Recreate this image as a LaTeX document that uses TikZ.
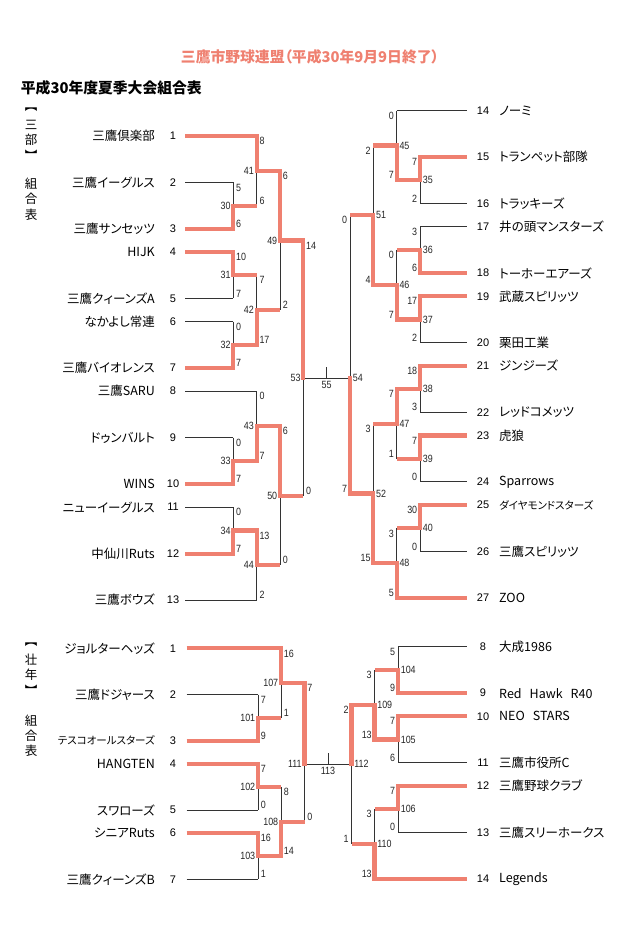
\documentclass[tikz,border=0pt]{standalone}
\usepackage{fontspec}
\setmainfont{Liberation Sans}
\newfontfamily\jp[RawFeature=+palt]{Noto Sans CJK JP}
\newfontfamily\jpv{Noto Sans CJK JP}
\newfontfamily\scorefont[FakeStretch=0.85]{Liberation Sans}
\definecolor{bracketred}{RGB}{239,128,112}
\def\games{30/A2/A3/A3/5/6/west/east, 41/A1/g30/A1/8/6/west/east,
 31/A4/A5/A4/10/7/west/east, 32/A6/A7/A7/0/7/west/east,
 42/g31/g32/g32/7/17/west/east, 49/g41/g42/g41/6/2/west/east,
 33/A9/A10/A10/0/7/west/east, 43/A8/g33/g33/0/7/west/east,
 34/A11/A12/A12/0/7/west/east, 44/g34/A13/g34/13/2/west/east,
 50/g43/g44/g43/6/0/west/east, 53/g49/g50/g49/14/0/west/east,
 35/A15/A16/A15/7/2/east/west, 45/A14/g35/g35/0/7/east/west,
 36/A17/A18/A18/3/6/east/west, 37/A19/A20/A19/17/2/east/west,
 46/g36/g37/g37/0/7/east/west, 51/g45/g46/g46/2/4/east/west,
 38/A21/A22/A21/18/3/east/west, 39/A23/A24/A23/7/0/east/west,
 47/g38/g39/g38/7/1/east/west, 40/A25/A26/A25/30/0/east/west,
 48/g40/A27/A27/3/5/east/west, 52/g47/g48/g48/3/15/east/west,
 54/g51/g52/g52/0/7/east/west,
 101/B2/B3/B3/7/9/west/east, 107/B1/g101/B1/16/1/west/east,
 102/B4/B5/B4/7/0/west/east, 103/B6/B7/B6/16/1/west/east,
 108/g102/g103/g103/8/14/west/east, 111/g107/g108/g107/7/0/west/east,
 104/B8/B9/B9/5/9/east/west, 105/B10/B11/B10/7/6/east/west,
 109/g104/g105/g105/3/13/east/west, 106/B12/B13/B12/7/0/east/west,
 110/g106/B14/B14/3/13/east/west, 112/g109/g110/g109/2/1/east/west}
\begin{document}
\begin{tikzpicture}[x=1pt,y=-1pt,
 blk/.style={line width=1pt,black!80},
 win/.style={line width=4.2pt,bracketred},
 winv/.style={win,line cap=rect},
 seed/.style={font=\fontsize{11}{12}\selectfont,inner sep=0pt},
 team/.style={font=\jp\fontsize{12.5}{14}\selectfont,inner sep=0pt},
 score/.style={font=\scorefont\fontsize{10.5}{11}\selectfont,inner xsep=2.6pt,inner ysep=1.2pt,text=black!85},
 vt/.style={font=\jpv\fontsize{12.5}{14}\selectfont,inner sep=0pt}]
 \fill[white] (0,0) rectangle (634,934);
 \node[font=\jp\bfseries\fontsize{14.8}{16}\selectfont,text=bracketred] (title) at (310,56.7) {三鷹市野球連盟（平成30年9月9日終了）};
 \node[font=\jp\bfseries\fontsize{14.8}{16}\selectfont,anchor=west,inner sep=0pt] (sub) at (20.7,87.7) {平成30年度夏季大会組合表};
 % <<< 縦書き
 \foreach \c [count=\i] in {︻,三,部,︼} \node[vt] (va\i) at (31,95+15*\i) {\c};
 \foreach \c [count=\i] in {組,合,表} \node[vt] (vb\i) at (31,168+15.5*\i) {\c};
 \foreach \c [count=\i] in {︻,壮,年,︼} \node[vt] (vc\i) at (31,630+15*\i) {\c};
 \foreach \c [count=\i] in {組,合,表} \node[vt] (vd\i) at (31,706+15*\i) {\c};
 % <<< 三部 左
 \foreach \n/\sl/\nm in {1/0/三鷹倶楽部, 2/2/三鷹イーグルス, 3/4/三鷹サンセッツ,
   4/5/HIJK, 5/7/三鷹クィーンズA, 6/8/なかよし常連, 7/10/三鷹バイオレンス,
   8/11/三鷹SARU, 9/13/ドゥンバルト, 10/15/WINS, 11/16/ニューイーグルス,
   12/18/中仙川Ruts, 13/20/三鷹ボウズ}{
  \coordinate (A\n) at (185,136+23.2*\sl);
  \node[seed] (nA\n) at (173,136+23.2*\sl) {\n};
  \node[team,anchor=east] (tA\n) at (155,136+23.2*\sl) {\nm};
 }
 % <<< 三部 右
 \foreach \n/\sl/\nm in {14/0/ノーミ, 15/2/トランペット部隊, 16/4/トラッキーズ,
   17/5/井の頭マンスターズ, 18/7/トーホーエアーズ, 19/8/武蔵スピリッツ,
   20/10/栗田工業, 21/11/ジンジーズ, 22/13/レッドコメッツ, 23/14/虎狼,
   24/16/Sparrows, 25/17/{\fontsize{10.5}{12}\selectfont ダイヤモンドスターズ},
   26/19/三鷹スピリッツ, 27/21/ZOO}{
  \coordinate (A\n) at (466.7,110.7+23.2*\sl);
  \node[seed] (nA\n) at (483,110.7+23.2*\sl) {\n};
  \node[team,anchor=west] (tA\n) at (499,110.7+23.2*\sl) {\nm};
 }
 % <<< 壮年 左
 \foreach \n/\sl/\nm in {1/0/ジョルターヘッズ\hspace{12pt}, 2/2/三鷹ドジャース,
   3/4/{\fontsize{10.5}{12}\selectfont テスコオールスターズ}, 4/5/HANGTEN,
   5/7/スワローズ, 6/8/シニアRuts, 7/10/三鷹クィーンズB}{
  \coordinate (B\n) at (186.5,648.3+23.1*\sl);
  \node[seed] (nB\n) at (173,648.3+23.1*\sl) {\n};
  \node[team,anchor=east] (tB\n) at (155,648.3+23.1*\sl) {\nm};
 }
 % <<< 壮年 右
 \foreach \n/\sl/\nm in {8/0/大成1986, 9/2/Red\hspace{8pt}Hawk\hspace{8pt}R40,
   10/3/NEO\hspace{8pt}STARS, 11/5/三鷹市役所C, 12/6/三鷹野球クラブ,
   13/8/三鷹スリーホークス, 14/10/Legends}{
  \coordinate (B\n) at (466.7,646.7+23.2*\sl);
  \node[seed] (nB\n) at (483,646.7+23.2*\sl) {\n};
  \node[team,anchor=west] (tB\n) at (499,646.7+23.2*\sl) {\nm};
 }
 % <<< 試合
 \foreach \g/\x/\y in {30/233.3/205.6, 41/256.7/170.8, 31/233.3/275.2,
   32/233.3/344.8, 42/256.7/310, 49/280/240.4, 33/233.3/460.8, 43/256.7/426,
   34/233.3/530.4, 44/256.7/565.2, 50/280/495.6, 53/303.3/378, 55/326.7/378,
   54/350/378, 35/420/180.3, 45/396.7/145.5, 36/420/249.9, 37/420/319.5,
   46/396.7/284.7, 51/373.3/215.1, 38/420/389.1, 39/420/458.7, 47/396.7/423.9,
   40/420/528.3, 48/396.7/563.1, 52/373.3/493.5,
   101/258/717.6, 107/281/683, 102/258/786.9, 103/258/856.2, 108/281/821.6,
   111/304.5/764, 113/328/764, 112/351.5/764, 104/398/669.9, 105/398/739.5,
   109/374.5/704.7, 106/398/809.1, 110/374.5/843.9}
  \coordinate (g\g) at (\x,\y);
 % <<< 黒線
 \foreach \ta/\tb in {A2/g30, A5/g31, A6/g32, A8/g43, A9/g33, A11/g34, A13/g44,
   A14/g45, A16/g35, A17/g36, A20/g37, A22/g38, A24/g39, A26/g40,
   B2/g101, B5/g102, B7/g103, B8/g104, B11/g105, B13/g106, g53/g54, g111/g112}
  \draw[blk] (\ta) -- (\tb|-\ta);
 \foreach \g/\ta/\tb/\tw/\sa/\sb/\ds/\dj in \games
  \draw[blk] (g\g|-\ta) -- (g\g|-\tb);
 \draw[blk] (g55) -- ++(0,-11);
 \draw[blk] (g113) -- ++(0,-11);
 % <<< 赤線
 \foreach \ta/\tb in {A1/g41, A3/g30, A4/g31, A7/g32, A10/g33, A12/g34,
   g30/g41, g41/g49, g31/g42, g32/g42, g42/g49, g49/g53, g33/g43, g43/g50,
   g34/g44, g44/g50, g50/g53,
   A15/g35, A18/g36, A19/g37, A21/g38, A23/g39, A25/g40, A27/g48,
   g35/g45, g45/g51, g36/g46, g37/g46, g46/g51, g51/g54, g38/g47, g39/g47,
   g47/g52, g40/g48, g48/g52, g52/g54,
   B1/g107, B3/g101, B4/g102, B6/g103, g101/g107, g107/g111, g102/g108,
   g103/g108, g108/g111,
   B9/g104, B10/g105, B12/g106, B14/g110, g104/g109, g105/g109, g109/g112,
   g106/g110, g110/g112}
  \draw[win] (\ta) -- (\tb|-\ta);
 \foreach \g/\ta/\tb/\tw/\sa/\sb/\ds/\dj in \games
  \draw[winv] (g\g|-\tw) -- (g\g);
 % <<< 得点
 \foreach \g/\ta/\tb/\tw/\sa/\sb/\ds/\dj in \games {
  \node[score,anchor=north \ds] (s\g a) at (g\g|-\ta) {\sa};
  \node[score,anchor=south \ds] (s\g b) at (g\g|-\tb) {\sb};
  \node[score,anchor=\dj] (j\g) at (g\g) {\g};
 }
 \node[score,anchor=north,yshift=-1.5pt] (j55) at (g55) {55};
 \node[score,anchor=north,yshift=-1.5pt] (j113) at (g113) {113};
\end{tikzpicture}
\end{document}
